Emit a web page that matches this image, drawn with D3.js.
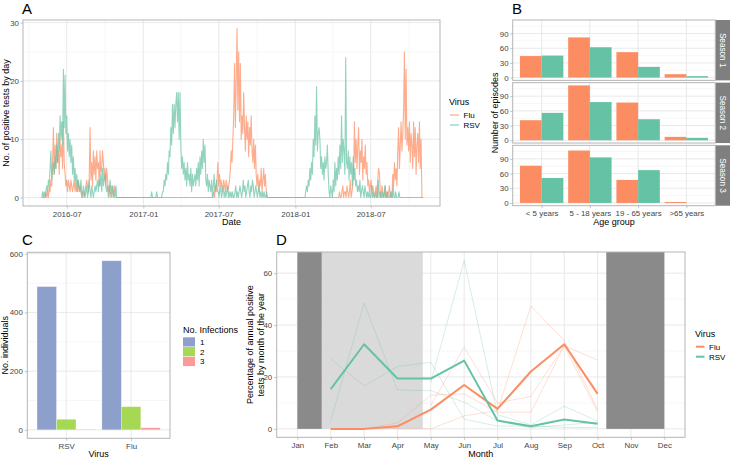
<!DOCTYPE html>
<html><head><meta charset="utf-8">
<script src="https://cdn.jsdelivr.net/npm/d3@7"></script>
<style>body{margin:0;background:#fff}</style>
</head><body><svg id="c" width="730" height="458"></svg>
<script>
// ---------------- DATA ----------------
// Panel A: daily positive tests, values every 2 days from each segment start
const seriesStart = "2016-05-02";
const seriesEnd = "2018-11-03";
const rsv2016Start = "2016-05-02";
const rsv2016 = [0,1,0,1,0,1, 2,1,3,2,5, 8,3,5, 6,4,7,5,9,6, 11,8,14, 10,13,9, 22,12,21,11, 14,8,11,7,10, 6,9,4,7,3,5, 2,4,1,3,2,1,3,
  1,0,2,1,0,1,2,0,1,3,1,0,2,1,0,1,2,1,2,3,1, 3,2,4,1,5,2,3,4,2, 1,2,0,1,3,1,0,2,1,0,1,2,0];
const rsv2017Start = "2017-01-15";
const rsv2017 = [0,0,0,1,0,0,0,0,0,1,0,0,0,0,0,0,1, 1,3,2,4,3,6,4,8, 7,12,9,16, 11,16,12,16, 18,13,18,10,18, 9,5,7,4,6,3,
  5,2,6,3,4,2,5,1,4,2,3, 4,2,5,3,6,2, 7,4,8,5,10,6,9, 3,2,4,1,3,2,1,3,0,2,4,1,2,3,1, 1,0,2,1,0,1,2,0,1,0,1,2,0,1,0,1,
  0,1,0,0,1,2,0,1,0,1,2,1,0,1,3,1,2,0,1,2,3,1,0,2,1,3,2,0,1,2,1,0,1,2,0,1,0,1,0,1,0,0,1,0];
const rsv2018Start = "2018-01-24";
const rsv2018 = [0,1,2,1,3,2, 5,3, 6,4,10,7,14,9,19, 8,11,12,10, 5,7,4,6,3,7,5,6,9, 4,1,0,2,1,0, 3,1,6,2,5,3,7,4, 9,5,14,6,10,8,4, 24,6,
  5,8,3,7,4,6,2,7,3,5,2, 3,1,2,1,3,0,1,2,1,0,2,1,0,1, 0,1,0,0,2,0,1,0,0,1,0,0,3,0,1,0,0,1,0,0,2,0,0,1,0,0,0,1,0,0,2,0,0,1,0,0,0,1,0];
const flu2016Start = "2016-05-10";
const flu2016 = [0,1,0,1,0,2,1,3,2, 6,12,4,9, 5,11,6,8,4,10,7,9,5,13,6,4, 2,3,1,3,2,1,3,2,1,2,3,1,2,1,3,2,1,2, 1,0,1,1,0,1,
  2,3,2,1,3, 12, 3,6,2,8,4,7,3,8,5,6,2,8,4, 5,8,6,3,5,2,5,3, 1,2,0,1,2,1,0,2,1,0,0];
const flu2017Start = "2017-06-17";
const flu2017 = [0,1,0,2,1,3, 6,2,4, 2,3,1,2,3,2,1,3,2,1,2,3, 5,8,6,10, 14,23,12,20, 29, 15,25,13,23, 10,14,11, 18,
  12,8,14,10,13,7,12,9,14, 8,6,10,5,9,4, 2,4,1,3, 2,5,1,3,5,2,4,1,0];
const flu2018Start = "2018-04-15";
const flu2018 = [0,1,0,0,1,2,0,1,1,0,2,1,0,1,3,0,1,2, 4,13, 6,10,5,9,12,4,8,6,10,3,7,5,9,4,6, 2,3,1,2,3,1,2, 1,0,1,2,0, 3,5,4,
  1,0,2,1,0,1,2,0,1,0,1,2,0,1,0, 4,2,6,3,5,2, 8,12,5, 9,13,8,11,15, 25, 10,22,9, 12,8,13,6,11,9, 5,13,7,12,4,9, 11,6,13,5,10,0];
const dateTicksA = ["2016-07-01","2017-01-01","2017-07-01","2018-01-01","2018-07-01"];
const dateMinorA = ["2016-04-01","2016-10-01","2017-04-01","2017-10-01","2018-04-01","2018-10-01"];
const countTicksA = [0,10,20,30];

// Panel B: episodes by age group and season
const ageGroups = ["< 5 years","5 - 18 years","19 - 65 years",">65 years"];
const seasons = ["Season 1","Season 2","Season 3"];
const fluEpisodes = [[44,82,52,7],[41,112,77,7],[76,107,47,2]];
const rsvEpisodes = [[45,62,22,3],[56,78,43,5],[51,93,67,0]];
const episodeTicks = [0,30,60,90];

// Panel C: individuals by number of infections
const virusesC = ["RSV","Flu"];
const infections = ["1","2","3"];
const individuals1 = [488,576];
const individuals2 = [36,79];
const individuals3 = [2,7];
const individualTicks = [0,200,400,600];

// Panel D: percentage of annual positive tests by month
const monthLabels = ["Jan","Feb","Mar","Apr","May","Jun","Jul","Aug","Sep","Oct","Nov","Dec"];
const monthsFeb = [2,3,4,5,6,7,8,9,10];
const monthsMay = [5,6,7,8,9,10];
const fluSeason1 = [9,31.5,10,12.5,32,6.5];
const fluSeason2 = [0,0,0,0,5,7,47.3,34,7.5];
const fluSeason3 = [0,0,2.3,13,13.5,6.4,6.4,32,26.5];
const rsvSeason1 = [18,64.9,5.5,1.5,8.7,3];
const rsvSeason2 = [3,48.5,15,14.7,10.3,3,0.5,1.5,2.5];
const rsvSeason3 = [27,16.5,24,25.7,3.7,1.1,1,0.6,0.5];
const fluMean = [0,0,1,7.4,16.9,7.7,22.1,32.6,13.5];
const rsvMean = [15.3,32.6,19.4,19.4,26.3,3.2,1,3.6,2];
const darkPeriods = [[1,1.73],[10.26,12]];
const lightPeriods = [[1.73,4.76]];
const pctTicks = [0,20,40,60];

// ---------------- STYLE ----------------
const FONT = '"Liberation Sans", Arial, Helvetica, sans-serif';
const FLU = "#fc8d62", RSV = "#66c2a5";
const infColors = ["#8da0cb","#a6d854","#fb9a99"];
const GRID = "#e6e6e6", GRIDMIN = "#f2f2f2", BORDER = "#b5b5b5", TICKTXT = "#454545";
const TICKFS = 7.9, TITLEFS = 9, LEGFS = 8;

const svg = d3.select("#c");
svg.append("rect").attr("width",730).attr("height",458).attr("fill","#fff");

function styleAxis(g){
  g.attr("font-family",FONT).attr("font-size",TICKFS);
  g.select(".domain").remove();
  g.selectAll(".tick line").attr("stroke",BORDER).attr("stroke-width",0.8);
  g.selectAll(".tick text").attr("fill",TICKTXT);
}
function hGrid(g, vals, y, x0, x1, col, w){
  g.selectAll(null).data(vals).join("line").attr("x1",x0).attr("x2",x1)
   .attr("y1",d=>y(d)).attr("y2",d=>y(d)).attr("stroke",col).attr("stroke-width",w);
}
function vGrid(g, vals, x, y0, y1, col, w){
  g.selectAll(null).data(vals).join("line").attr("y1",y0).attr("y2",y1)
   .attr("x1",d=>x(d)).attr("x2",d=>x(d)).attr("stroke",col).attr("stroke-width",w);
}
function border(g,x0,y0,x1,y1){
  g.append("rect").attr("x",x0).attr("y",y0).attr("width",x1-x0).attr("height",y1-y0)
   .attr("fill","none").attr("stroke",BORDER).attr("stroke-width",1);
}
function text(g,x,y,s,opt={}){
  const t = g.append("text").attr("x",x).attr("y",y).text(s).attr("font-family",FONT)
   .attr("font-size",opt.fs||TITLEFS).attr("fill",opt.fill||"#000")
   .attr("text-anchor",opt.anchor||"start");
  if(opt.rot) t.attr("transform",`rotate(${opt.rot},${x},${y})`);
  return t;
}
function mids(a){ const r=[]; for(let i=0;i<a.length-1;i++) r.push((a[i]+a[i+1])/2); return r; }

// ---------------- PANEL A ----------------
(function(){
  const L=23,R=440,T=20,B=206;
  const g = svg.append("g");
  const parse = d3.timeParse("%Y-%m-%d");
  const seg = (s,vals)=>vals.map((v,i)=>({date:d3.timeDay.offset(parse(s),2*i),v}));
  const fluPts = [{date:parse(seriesStart),v:0}, ...seg(flu2016Start,flu2016), ...seg(flu2017Start,flu2017), ...seg(flu2018Start,flu2018), {date:parse(seriesEnd),v:0}];
  const rsvPts = [...seg(rsv2016Start,rsv2016), ...seg(rsv2017Start,rsv2017), ...seg(rsv2018Start,rsv2018), {date:parse(seriesEnd),v:0}];
  const x = d3.scaleTime().domain([new Date(2016,2,18), new Date(2018,11,14,10)]).range([L,R]);
  const ymax = d3.max([...fluPts,...rsvPts], d=>d.v);
  const y = d3.scaleLinear().domain([-0.05*ymax, 1.05*ymax]).range([B,T]);
  hGrid(g, mids(countTicksA), y, L, R, GRIDMIN, 0.6);
  vGrid(g, dateMinorA.map(parse), x, T, B, GRIDMIN, 0.6);
  hGrid(g, countTicksA, y, L, R, GRID, 0.9);
  vGrid(g, dateTicksA.map(parse), x, T, B, GRID, 0.9);
  const line = d3.line().x(d=>x(d.date)).y(d=>y(d.v));
  g.append("path").datum(fluPts).attr("d",line).attr("fill","none").attr("stroke",FLU).attr("stroke-opacity",0.72).attr("stroke-width",1.1).attr("stroke-linejoin","round");
  g.append("path").datum(rsvPts).attr("d",line).attr("fill","none").attr("stroke",RSV).attr("stroke-opacity",0.72).attr("stroke-width",1.1).attr("stroke-linejoin","round");
  border(g,L,T,R,B);
  g.append("g").attr("transform",`translate(0,${B})`).call(d3.axisBottom(x).tickValues(dateTicksA.map(parse)).tickFormat(d3.timeFormat("%Y-%m")).tickSize(2.5).tickPadding(2.4)).call(styleAxis);
  g.append("g").attr("transform",`translate(${L},0)`).call(d3.axisLeft(y).tickValues(countTicksA).tickSize(2.5).tickPadding(1.6)).call(styleAxis);
  text(g,(L+R)/2,225,"Date",{anchor:"middle"});
  text(g,8.5,(T+B)/2,"No. of positive tests by day",{anchor:"middle",rot:-90});
  text(g,22,14,"A",{fs:15});
  // legend (shared by A and B)
  const lg = svg.append("g");
  text(lg,449,104.5,"Virus");
  [["Flu",FLU],["RSV",RSV]].forEach((d,i)=>{
    const yy = 115+10*i;
    lg.append("line").attr("x1",450).attr("x2",459).attr("y1",yy).attr("y2",yy).attr("stroke",d[1]).attr("stroke-width",1.2).attr("stroke-opacity",0.75);
    text(lg,463.5,yy+2.8,d[0],{fs:LEGFS});
  });
})();

// ---------------- PANEL B ----------------
(function(){
  const L=512.7,R=715.3,T=20,B=205.7,gap=2.3;
  const H=(B-T-2*gap)/3;
  const g = svg.append("g");
  const x = d3.scalePoint().domain(ageGroups).range([L,R]).padding(0.6);
  const step = x.step();
  const maxv = d3.max([...fluEpisodes.flat(),...rsvEpisodes.flat()]);
  seasons.forEach((s,si)=>{
    const top = T + si*(H+gap), bot = top+H;
    const y = d3.scaleLinear().domain([-0.05*maxv,1.05*maxv]).range([bot,top]);
    hGrid(g, [15,45,75,105], y, L, R, GRIDMIN, 0.6);
    hGrid(g, episodeTicks, y, L, R, GRID, 0.9);
    vGrid(g, ageGroups, x, top, bot, GRID, 0.9);
    [[fluEpisodes[si],FLU],[rsvEpisodes[si],RSV]].forEach((d,vi)=>{
      g.selectAll(null).data(ageGroups).join("rect")
        .attr("x",a=>x(a)-0.45*step+vi*0.45*step).attr("width",0.45*step)
        .attr("y",(a,i)=>y(d[0][i])).attr("height",(a,i)=>y(0)-y(d[0][i])).attr("fill",d[1]);
    });
    border(g,L,top,R,bot);
    g.append("g").attr("transform",`translate(${L},0)`).call(d3.axisLeft(y).tickValues(episodeTicks).tickSize(2.5).tickPadding(1.6)).call(styleAxis);
    g.append("rect").attr("x",R+0.5).attr("y",top).attr("width",14.3).attr("height",H).attr("fill","#7f7f7f");
    text(g,R+7.6,top+H/2,s,{fs:8.2,fill:"#fff",anchor:"middle",rot:90}).attr("dy","0.35em");
  });
  g.append("g").attr("transform",`translate(0,${B})`).call(d3.axisBottom(x).tickSize(2.5).tickPadding(2.2)).call(styleAxis);
  text(g,(L+R)/2,225,"Age group",{anchor:"middle"});
  text(g,498,(T+B)/2,"Number of episodes",{anchor:"middle",rot:-90});
  text(g,512,13.5,"B",{fs:15});
})();

// ---------------- PANEL C ----------------
(function(){
  const L=27.3,R=170,T=252.3,B=438.3;
  const g = svg.append("g");
  const series = [individuals1,individuals2,individuals3];
  const maxv = d3.max(series.flat());
  const x = d3.scalePoint().domain(virusesC).range([L,R]).padding(0.6);
  const step = x.step();
  const y = d3.scaleLinear().domain([-0.05*maxv,1.05*maxv]).range([B,T]);
  hGrid(g, [100,300,500], y, L, R, GRIDMIN, 0.6);
  hGrid(g, individualTicks, y, L, R, GRID, 0.9);
  vGrid(g, virusesC, x, T, B, GRID, 0.9);
  series.forEach((vals,k)=>{
    g.selectAll(null).data(virusesC).join("rect")
      .attr("x",v=>x(v)-0.45*step+k*0.3*step).attr("width",0.3*step)
      .attr("y",(v,i)=>y(vals[i])).attr("height",(v,i)=>y(0)-y(vals[i]))
      .attr("fill",infColors[k]).attr("stroke","#ffffff").attr("stroke-opacity",0.45).attr("stroke-width",0.6);
  });
  border(g,L,T,R,B);
  g.append("g").attr("transform",`translate(0,${B})`).call(d3.axisBottom(x).tickSize(2.5).tickPadding(2.4)).call(styleAxis);
  g.append("g").attr("transform",`translate(${L},0)`).call(d3.axisLeft(y).tickValues(individualTicks).tickSize(2.5).tickPadding(2)).call(styleAxis);
  text(g,(L+R)/2,456.5,"Virus",{anchor:"middle"});
  text(g,8.5,(T+B)/2,"No. individuals",{anchor:"middle",rot:-90});
  text(g,22,245,"C",{fs:15});
  // legend
  text(g,183,332.5,"No. Infections");
  infections.forEach((d,i)=>{
    const yy = 337.3+9.8*i;
    g.append("rect").attr("x",183).attr("y",yy).attr("width",12).attr("height",9.2).attr("fill",infColors[i]);
    text(g,200,yy+7.4,d,{fs:LEGFS});
  });
})();

// ---------------- PANEL D ----------------
(function(){
  const L=276.7,R=685,T=252,B=437.3;
  const g = svg.append("g");
  const x = d3.scaleLinear().domain([0.38,12.62]).range([L,R]);
  const allv = [...fluSeason1,...fluSeason2,...fluSeason3,...rsvSeason1,...rsvSeason2,...rsvSeason3];
  const maxv = d3.max(allv);
  const y = d3.scaleLinear().domain([-0.05*maxv,1.05*maxv]).range([B,T]);
  const months = d3.range(1,13);
  hGrid(g, [10,30,50], y, L, R, GRIDMIN, 0.6);
  hGrid(g, pctTicks, y, L, R, GRID, 0.9);
  vGrid(g, months, x, T, B, GRID, 0.9);
  g.selectAll(null).data(lightPeriods).join("rect").attr("x",d=>x(d[0])).attr("width",d=>x(d[1])-x(d[0]))
    .attr("y",T).attr("height",y(0)-T).attr("fill","#dadada");
  g.selectAll(null).data(darkPeriods).join("rect").attr("x",d=>x(d[0])).attr("width",d=>x(d[1])-x(d[0]))
    .attr("y",T).attr("height",y(0)-T).attr("fill","#8a8a8a");
  const line = d3.line().x(d=>x(d[0])).y(d=>y(d[1]));
  const thin = [[monthsMay,fluSeason1,FLU],[monthsFeb,fluSeason2,FLU],[monthsFeb,fluSeason3,FLU],
                [monthsMay,rsvSeason1,RSV],[monthsFeb,rsvSeason2,RSV],[monthsFeb,rsvSeason3,RSV]];
  thin.forEach(t=>{
    g.append("path").datum(t[0].map((m,i)=>[m,t[1][i]])).attr("d",line).attr("fill","none")
      .attr("stroke",t[2]).attr("stroke-opacity",0.3).attr("stroke-width",0.9);
  });
  [[fluMean,FLU],[rsvMean,RSV]].forEach(t=>{
    g.append("path").datum(monthsFeb.map((m,i)=>[m,t[0][i]])).attr("d",line).attr("fill","none")
      .attr("stroke",t[1]).attr("stroke-width",2).attr("stroke-linejoin","round");
  });
  border(g,L,T,R,B);
  g.append("g").attr("transform",`translate(0,${B})`).call(d3.axisBottom(x).tickValues(months).tickFormat(m=>monthLabels[m-1]).tickSize(2.5).tickPadding(2.4)).call(styleAxis);
  g.append("g").attr("transform",`translate(${L},0)`).call(d3.axisLeft(y).tickValues(pctTicks).tickSize(2.5).tickPadding(2)).call(styleAxis);
  text(g,(L+R)/2,456.5,"Month",{anchor:"middle"});
  text(g,253.5,(T+B)/2,"Percentage of annual positive",{anchor:"middle",rot:-90});
  text(g,264,(T+B)/2,"tests by month of the year",{anchor:"middle",rot:-90});
  text(g,276,245,"D",{fs:15});
  // legend
  text(g,695,337,"Virus");
  [["Flu",FLU],["RSV",RSV]].forEach((d,i)=>{
    const yy = 346.7+10*i;
    g.append("line").attr("x1",696).attr("x2",704.5).attr("y1",yy).attr("y2",yy).attr("stroke",d[1]).attr("stroke-width",2);
    text(g,709,yy+2.8,d[0],{fs:LEGFS});
  });
})();
</script></body></html>
